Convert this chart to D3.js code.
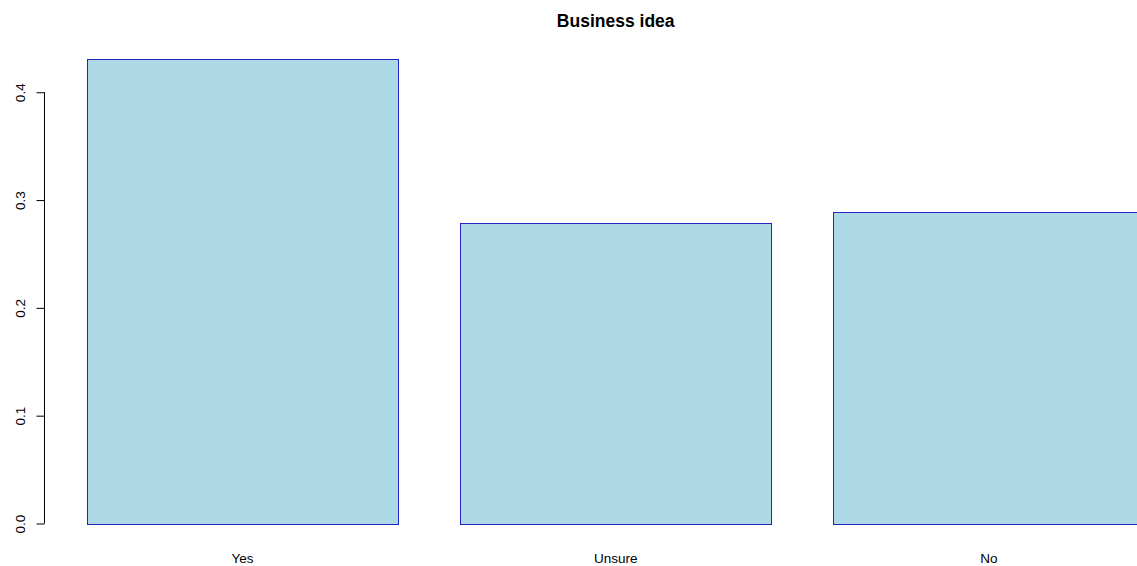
<!DOCTYPE html>
<html>
<head>
<meta charset="utf-8">
<script src="https://cdn.jsdelivr.net/npm/d3@7"></script>
<style>
  body { margin: 0; background: #fff; }
  svg { display: block; font-family: "Liberation Sans", Arial, sans-serif; }
</style>
</head>
<body>
<div id="chart"></div>
<script>
// donnees
const categories = ["Yes", "Unsure", "No"];
const values = [0.4312, 0.2788, 0.2887];
const yTicks = [0, 0.1, 0.2, 0.3, 0.4];
const title = "Business idea";

const width = 1137, height = 566;
const plot = { left: 44.7, top: 40, bottom: 542.1 };
const space = 0.2; // espace entre les barres, comme barplot() de R

var svg = d3
  .select("#chart")
  .append("svg")
  .attr("width", width)
  .attr("height", height);

// Echelle x : une unite par barre, plus 4% de marge de chaque cote
var xmin = space, xmax = categories.length * (1 + space);
var xpad = (xmax - xmin) * 0.04;
var unit = 311; // largeur d'une barre en pixels
var x = d3
  .scaleLinear()
  .domain([xmin - xpad, xmax + xpad])
  .range([plot.left, plot.left + (xmax - xmin + 2 * xpad) * unit]);

// Echelle y : de 0 au maximum, +4%
var ymax = d3.max(values);
var ypad = ymax * 0.04;
var y = d3
  .scaleLinear()
  .domain([-ypad, ymax + ypad])
  .range([plot.bottom, plot.top]);

// Barres
svg
  .selectAll("rect.bar")
  .data(values)
  .enter()
  .append("rect")
  .attr("class", "bar")
  .attr("x", (d, i) => Math.round(x(space + i * (1 + space))) + 0.5)
  .attr("width", (d, i) => x(1) - x(0))
  .attr("y", (d) => Math.round(y(d)) + 0.5)
  .attr("height", (d) => Math.round(y(0)) - Math.round(y(d)))
  .attr("fill", "#ADD8E6")
  .attr("stroke", "#2323c8")
  .attr("stroke-width", 1);

// Noms des categories sous les barres
svg
  .selectAll("text.cat")
  .data(categories)
  .enter()
  .append("text")
  .attr("class", "cat")
  .attr("x", (d, i) => x(space + i * (1 + space) + 0.5))
  .attr("y", 563)
  .attr("text-anchor", "middle")
  .attr("font-size", "13.5px")
  .attr("fill", "#000")
  .text((d) => d);

// Axe y (style R : la ligne ne couvre que les graduations)
var axisX = 44.5;
var yAxis = svg
  .append("g")
  .attr("transform", "translate(" + axisX + ",0)")
  .call(
    d3
      .axisLeft(y)
      .tickValues(yTicks)
      .tickSize(8)
      .tickFormat(d3.format(".1f"))
  );
yAxis.select(".domain").remove();
yAxis.selectAll(".tick line").attr("stroke", "#000");
yAxis
  .selectAll(".tick text")
  .attr("x", null)
  .attr("dy", null)
  .attr("transform", "translate(-20,0) rotate(-90)")
  .attr("text-anchor", "middle")
  .attr("font-size", "13.5px")
  .attr("font-family", "Liberation Sans, Arial, sans-serif")
  .attr("fill", "#000");
yAxis
  .append("line")
  .attr("x1", 0)
  .attr("x2", 0)
  .attr("y1", y(yTicks[0]))
  .attr("y2", y(yTicks[yTicks.length - 1]))
  .attr("stroke", "#000");

// Titre
svg
  .append("text")
  .attr("x", x((xmin + xmax) / 2))
  .attr("y", 27)
  .attr("text-anchor", "middle")
  .attr("font-size", "17.5px")
  .attr("font-weight", "bold")
  .text(title);
</script>
</body>
</html>
